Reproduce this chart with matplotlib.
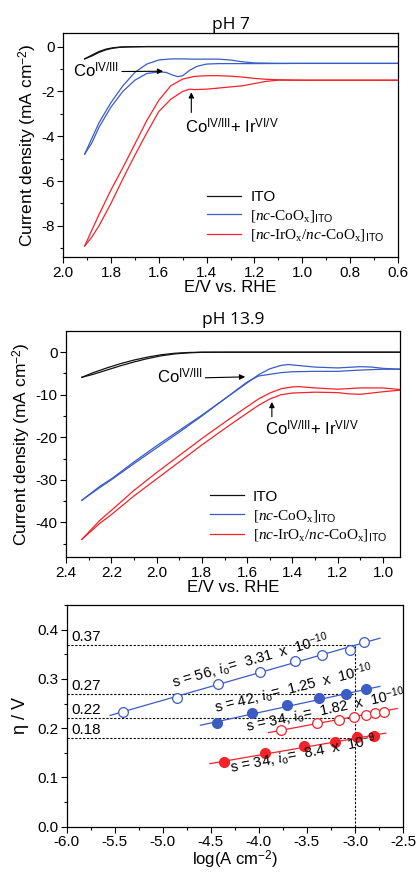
import matplotlib
matplotlib.use('Agg')
from matplotlib import pyplot as plt
from matplotlib.ticker import MultipleLocator, FormatStrFormatter

plt.rcParams['font.family'] = ['Liberation Sans', 'DejaVu Sans']
plt.rcParams['axes.unicode_minus'] = False
plt.rcParams['mathtext.fontset'] = 'custom'
plt.rcParams['mathtext.rm'] = 'Liberation Serif'
plt.rcParams['mathtext.it'] = 'Liberation Serif:italic'
plt.rcParams['mathtext.sf'] = 'Liberation Sans'

BLACK = '#111111'
BLUE = '#3a5cc4'
RED = '#f5222a'

# ---- pH 7 cyclic voltammograms (two sweeps each) ----
ph7_ito_E = [1.91, 1.88, 1.85, 1.82, 1.79, 1.76, 1.72, 1.65, 1.5, 1.2, 0.6]
ph7_ito_j1 = [-0.55, -0.38, -0.22, -0.11, -0.05, -0.02, -0.01, 0, 0, 0, 0]
ph7_ito_j2 = [-0.55, -0.42, -0.26, -0.14, -0.07, -0.03, -0.01, 0, 0, 0, 0]

ph7_co_E1 = [1.91, 1.88, 1.85, 1.80, 1.75, 1.70, 1.65, 1.60, 1.55, 1.50, 1.45,
             1.40, 1.35, 1.30, 1.25, 1.20, 1.10, 1.0, 0.8, 0.6]
ph7_co_j1 = [-4.8, -4.1, -3.4, -2.5, -1.75, -1.15, -0.78, -0.6, -0.55, -0.55, -0.56,
             -0.56, -0.56, -0.6, -0.68, -0.73, -0.75, -0.75, -0.75, -0.75]
ph7_co_E2 = [1.91, 1.88, 1.85, 1.80, 1.75, 1.70, 1.65, 1.60, 1.57, 1.54, 1.52, 1.50,
             1.47, 1.44, 1.40, 1.35, 1.3, 1.2, 1.0, 0.8, 0.6]
ph7_co_j2 = [-4.8, -4.3, -3.6, -2.7, -2.0, -1.5, -1.2, -1.13, -1.15, -1.28, -1.34, -1.3,
             -1.05, -0.88, -0.78, -0.76, -0.76, -0.76, -0.75, -0.75, -0.75]

ph7_ir_E1 = [1.91, 1.88, 1.85, 1.80, 1.75, 1.70, 1.65, 1.60, 1.55, 1.50, 1.45, 1.40,
             1.35, 1.30, 1.25, 1.20, 1.15, 1.10, 1.0, 0.8, 0.6]
ph7_ir_j1 = [-8.9, -8.2, -7.5, -6.4, -5.4, -4.35, -3.3, -2.4, -1.75, -1.45, -1.33, -1.3,
             -1.3, -1.32, -1.36, -1.42, -1.46, -1.48, -1.5, -1.5, -1.5]
ph7_ir_E2 = [1.91, 1.88, 1.85, 1.80, 1.75, 1.70, 1.65, 1.60, 1.55, 1.50, 1.47, 1.45,
             1.40, 1.35, 1.30, 1.25, 1.20, 1.15, 1.10, 1.0, 0.8, 0.6]
ph7_ir_j2 = [-8.9, -8.5, -8.0, -7.0, -5.9, -4.85, -3.85, -2.9, -2.35, -2.0, -1.9, -1.92,
             -1.9, -1.85, -1.8, -1.75, -1.65, -1.55, -1.5, -1.5, -1.5, -1.5]

# ---- pH 13.9 cyclic voltammograms ----
ph14_ito_E = [2.33, 2.28, 2.22, 2.16, 2.10, 2.04, 1.98, 1.92, 1.86, 1.80, 1.70, 1.5, 1.2, 0.92]
ph14_ito_j1 = [-5.9, -4.8, -3.7, -2.7, -1.85, -1.15, -0.6, -0.25, -0.07, 0, 0, 0, 0, 0]
ph14_ito_j2 = [-5.9, -5.2, -4.2, -3.2, -2.3, -1.5, -0.85, -0.4, -0.15, -0.03, 0, 0, 0, 0]

ph14_co_E1 = [2.33, 2.25, 2.2, 2.1, 2.0, 1.9, 1.8, 1.7, 1.6, 1.55, 1.5, 1.45, 1.42,
              1.38, 1.3, 1.2, 1.1, 1.05, 1.0, 0.92]
ph14_co_j1 = [-34.8, -31.5, -29.8, -25.8, -22.0, -18.4, -14.8, -11.0, -7.2, -5.3, -3.9,
              -3.1, -2.9, -3.1, -3.5, -3.7, -3.4, -3.5, -3.8, -4.0]
ph14_co_E2 = [2.33, 2.25, 2.2, 2.1, 2.0, 1.9, 1.8, 1.7, 1.6, 1.55, 1.5, 1.45, 1.4,
              1.3, 1.2, 1.1, 1.0, 0.92]
ph14_co_j2 = [-34.8, -31.8, -30.0, -26.2, -22.5, -18.8, -15.0, -11.0, -7.0, -5.6, -5.2,
              -4.8, -4.6, -4.5, -4.5, -4.2, -4.0, -4.0]

ph14_ir_E1 = [2.33, 2.25, 2.2, 2.1, 2.0, 1.9, 1.8, 1.7, 1.6, 1.55, 1.5, 1.45, 1.4,
              1.37, 1.3, 1.2, 1.1, 1.0, 0.92]
ph14_ir_j1 = [-44, -39.5, -37.2, -32.5, -28.3, -24.3, -20.3, -16.5, -12.8, -11.0, -9.6,
              -8.6, -8.15, -8.1, -8.4, -8.7, -8.4, -8.4, -8.8]
ph14_ir_E2 = [2.33, 2.25, 2.2, 2.1, 2.0, 1.9, 1.8, 1.7, 1.6, 1.55, 1.5, 1.45, 1.4,
              1.3, 1.2, 1.15, 1.1, 1.05, 1.0, 0.92]
ph14_ir_j2 = [-44, -40.2, -38.2, -33.8, -29.8, -25.8, -21.8, -18.0, -14.3, -12.5, -11.0,
              -10.0, -9.6, -9.4, -9.5, -9.8, -9.9, -9.6, -9.3, -8.9]

# ---- Tafel plots ----
co7_x = [-5.42, -4.85, -4.43, -3.99, -3.62, -3.34, -3.05, -2.91]
co7_y = [0.232, 0.262, 0.290, 0.315, 0.336, 0.349, 0.358, 0.375]
co7_fit_x = [-5.55, -2.74]
co7_fit_y = [0.226, 0.383]

co14_x = [-4.44, -4.07, -3.71, -3.37, -3.09, -2.88]
co14_y = [0.211, 0.231, 0.247, 0.261, 0.270, 0.279]
co14_fit_x = [-4.61, -2.74]
co14_fit_y = [0.206, 0.285]

ir7_x = [-3.77, -3.40, -3.17, -3.01, -2.88, -2.79, -2.70]
ir7_y = [0.197, 0.211, 0.217, 0.222, 0.227, 0.231, 0.233]
ir7_fit_x = [-3.90, -2.56]
ir7_fit_y = [0.191, 0.240]

ir14_x = [-4.36, -3.94, -3.53, -3.21, -2.98, -2.80]
ir14_y = [0.131, 0.149, 0.164, 0.173, 0.182, 0.185]
ir14_fit_x = [-4.51, -2.68]
ir14_fit_y = [0.128, 0.190]

eta_levels = [0.37, 0.27, 0.22, 0.18]
eta_labels = ['0.37', '0.27', '0.22', '0.18']

tafel_texts = [r's = 56, $\mathit{i}_{\mathsf{o}}$=  3.31  x  10$^{\mathsf{-10}}$',
               r's = 42, $\mathit{i}_{\mathsf{o}}$=  1.25  x  10$^{\mathsf{-10}}$',
               r's = 34, $\mathit{i}_{\mathsf{o}}$=  1.82  x  10$^{\mathsf{-10}}$',
               r's = 34, $\mathit{i}_{\mathsf{o}}$=  8.4  x  10$^{\mathsf{-9}}$']
tafel_text_x = [-4.09, -3.64, -3.31, -3.54]
tafel_text_y = [0.337, 0.280, 0.237, 0.147]
tafel_text_rot = [16, 14, 12, 11]

legend_labels = ['ITO', r'[$nc$-CoO$_{\mathrm{x}}$]$_{\mathsf{ITO}}$',
                 r'[$nc$-IrO$_{\mathrm{x}}$/$nc$-CoO$_{\mathrm{x}}$]$_{\mathsf{ITO}}$']

fig = plt.figure(figsize=(4.18, 8.72), dpi=100)
ax1 = fig.add_axes([0.151, 0.705, 0.801, 0.257])
ax2 = fig.add_axes([0.158, 0.361, 0.799, 0.259])
ax3 = fig.add_axes([0.160, 0.052, 0.804, 0.254])


def style(ax):
    ax.tick_params(which='both', direction='out', top=False, right=False, labelsize=11, pad=2)
    ax.tick_params(which='major', length=4, width=0.8)
    ax.tick_params(which='minor', length=2.5, width=0.8)
    for s in ax.spines.values():
        s.set_linewidth(0.9)


def add_legend(ax):
    leg = ax.legend(loc='lower left', bbox_to_anchor=(0.39, 0.0), frameon=False,
                    handlelength=2.2, handletextpad=0.6, labelspacing=0.25,
                    prop={'family': 'Liberation Serif', 'size': 11})
    leg.get_texts()[0].set_family('Liberation Sans')


# pH 7
ax1.plot(ph7_ito_E, ph7_ito_j1, color=BLACK, lw=0.9, label=legend_labels[0])
ax1.plot(ph7_ito_E, ph7_ito_j2, color=BLACK, lw=0.9)
ax1.plot(ph7_co_E1, ph7_co_j1, color=BLUE, lw=0.9, label=legend_labels[1])
ax1.plot(ph7_co_E2, ph7_co_j2, color=BLUE, lw=0.9)
ax1.plot(ph7_ir_E1, ph7_ir_j1, color=RED, lw=0.9, label=legend_labels[2])
ax1.plot(ph7_ir_E2, ph7_ir_j2, color=RED, lw=0.9)
ax1.set_xlim(2.0, 0.6)
ax1.set_ylim(-9.4, 0.6)
ax1.xaxis.set_major_locator(MultipleLocator(0.2))
ax1.xaxis.set_minor_locator(MultipleLocator(0.1))
ax1.yaxis.set_major_locator(MultipleLocator(2))
ax1.yaxis.set_minor_locator(MultipleLocator(1))
style(ax1)
ax1.set_title('pH 7', fontsize=12.5, family='Open Sans', pad=3)
ax1.set_xlabel('E/V vs. RHE', fontsize=12, labelpad=0)
ax1.set_ylabel(r'Current density (mA cm$^{\mathsf{-2}}$)', fontsize=12.5, labelpad=2)
ax1.annotate(r'Co$^{\mathsf{IV/III}}$', xy=(1.582, -1.1), xytext=(1.958, -1.07),
             fontsize=12, va='center', ha='left',
             arrowprops=dict(arrowstyle='-|>', color='black', lw=0.8, mutation_scale=8,
                             shrinkA=0, shrinkB=0, relpos=(1.0, 0.45)))
ax1.annotate('', xy=(1.464, -2.04), xytext=(1.464, -2.94),
             arrowprops=dict(arrowstyle='-|>', color='black', lw=0.8, mutation_scale=8,
                             shrinkA=0, shrinkB=0))
ax1.text(1.492, -3.58, r'Co$^{\mathsf{IV/III}}$+ Ir$^{\mathsf{VI/V}}$', fontsize=12,
         va='center', ha='left')
add_legend(ax1)

# pH 13.9
ax2.plot(ph14_ito_E, ph14_ito_j1, color=BLACK, lw=0.9, label=legend_labels[0])
ax2.plot(ph14_ito_E, ph14_ito_j2, color=BLACK, lw=0.9)
ax2.plot(ph14_co_E1, ph14_co_j1, color=BLUE, lw=0.9, label=legend_labels[1])
ax2.plot(ph14_co_E2, ph14_co_j2, color=BLUE, lw=0.9)
ax2.plot(ph14_ir_E1, ph14_ir_j1, color=RED, lw=0.9, label=legend_labels[2])
ax2.plot(ph14_ir_E2, ph14_ir_j2, color=RED, lw=0.9)
ax2.set_xlim(2.4, 0.925)
ax2.set_ylim(-48.2, 4.9)
ax2.xaxis.set_major_locator(MultipleLocator(0.2))
ax2.xaxis.set_minor_locator(MultipleLocator(0.1))
ax2.yaxis.set_major_locator(MultipleLocator(10))
ax2.yaxis.set_minor_locator(MultipleLocator(5))
style(ax2)
ax2.set_title('pH 13.9', fontsize=12.5, family='Open Sans', pad=5)
ax2.set_xlabel('E/V vs. RHE', fontsize=12, labelpad=0)
ax2.set_ylabel(r'Current density (mA cm$^{\mathsf{-2}}$)', fontsize=12.5, labelpad=2)
ax2.annotate(r'Co$^{\mathsf{IV/III}}$', xy=(1.609, -5.8), xytext=(2.0, -5.8),
             fontsize=12, va='center', ha='left',
             arrowprops=dict(arrowstyle='-|>', color='black', lw=0.8, mutation_scale=8,
                             shrinkA=0, shrinkB=0, relpos=(1.0, 0.45)))
ax2.annotate('', xy=(1.491, -11.7), xytext=(1.491, -15.2),
             arrowprops=dict(arrowstyle='-|>', color='black', lw=0.8, mutation_scale=8,
                             shrinkA=0, shrinkB=0))
ax2.text(1.52, -17.9, r'Co$^{\mathsf{IV/III}}$+ Ir$^{\mathsf{VI/V}}$', fontsize=12,
         va='center', ha='left')
add_legend(ax2)

# Tafel
for lvl, lab in zip(eta_levels, eta_labels):
    ax3.plot([-6.0, -3.0], [lvl, lvl], color='black', lw=0.8, ls=(0, (2, 1.5)))
    ax3.text(-5.95, lvl + 0.002, lab, fontsize=11, va='bottom', ha='left')
ax3.plot([-3.0, -3.0], [0.0, 0.37], color='black', lw=0.8, ls=(0, (2, 1.5)))

ax3.plot(co7_fit_x, co7_fit_y, color=BLUE, lw=0.9)
ax3.plot(co7_x, co7_y, 'o', mfc='white', mec=BLUE, ms=7, mew=0.9)
ax3.plot(co14_fit_x, co14_fit_y, color=BLUE, lw=0.9)
ax3.plot(co14_x, co14_y, 'o', color=BLUE, ms=7)
ax3.plot(ir7_fit_x, ir7_fit_y, color=RED, lw=0.9)
ax3.plot(ir7_x, ir7_y, 'o', mfc='white', mec=RED, ms=7, mew=0.9)
ax3.plot(ir14_fit_x, ir14_fit_y, color=RED, lw=0.9)
ax3.plot(ir14_x, ir14_y, 'o', color=RED, ms=7)

for t, x, y, r in zip(tafel_texts, tafel_text_x, tafel_text_y, tafel_text_rot):
    ax3.text(x, y, t, fontsize=10.5, rotation=r, ha='center', va='center',
             rotation_mode='anchor')

ax3.set_xlim(-6.0, -2.5)
ax3.set_ylim(0.0, 0.45)
ax3.xaxis.set_major_locator(MultipleLocator(0.5))
ax3.xaxis.set_minor_locator(MultipleLocator(0.25))
ax3.yaxis.set_major_locator(MultipleLocator(0.1))
ax3.yaxis.set_minor_locator(MultipleLocator(0.05))
ax3.yaxis.set_major_formatter(FormatStrFormatter('%.1f'))
ax3.xaxis.set_major_formatter(FormatStrFormatter('%.1f'))
style(ax3)
ax3.set_xlabel(r'log(A cm$^{\mathsf{-2}}$)', fontsize=12, labelpad=0)
ax3.set_ylabel('η / V', fontsize=13, labelpad=6)

fig.savefig('out.png', dpi=100)
